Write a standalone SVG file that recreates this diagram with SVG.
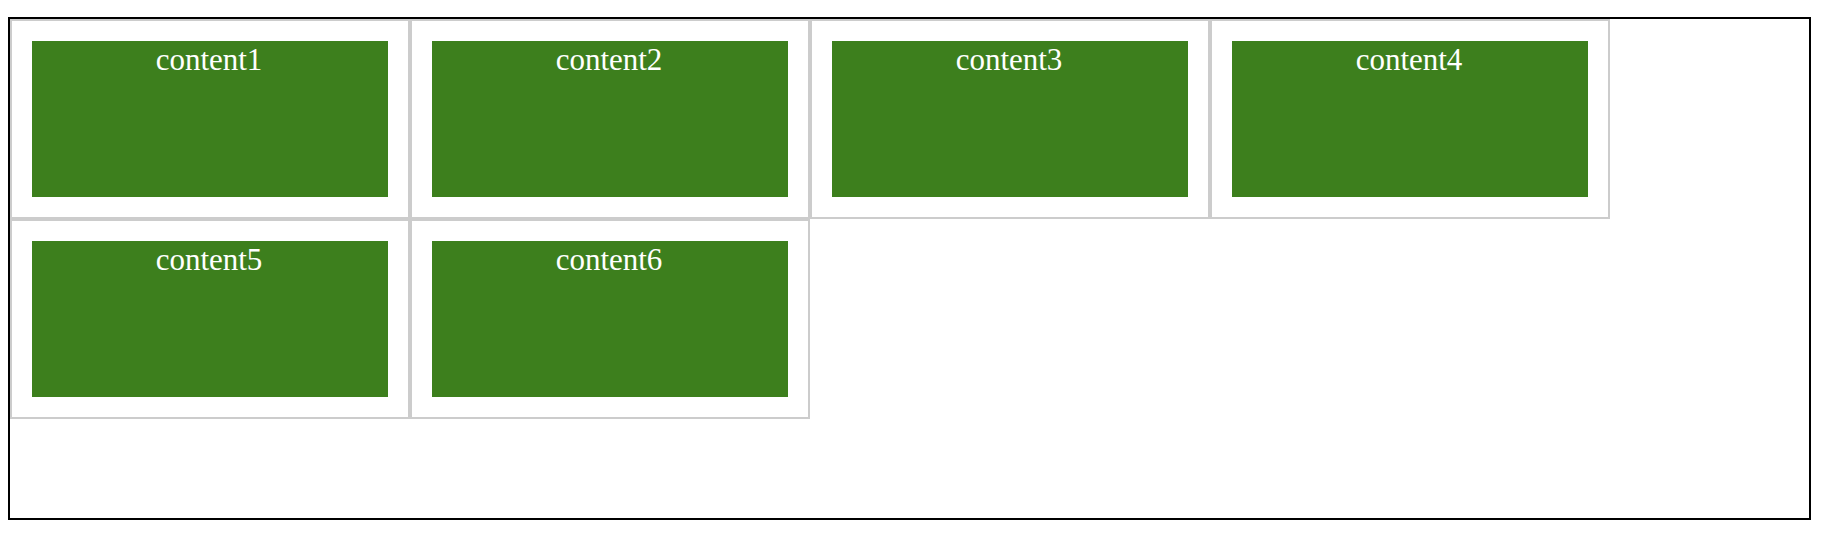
<svg xmlns="http://www.w3.org/2000/svg" width="1826" height="538" viewBox="0 0 1826 538">
<style>
.cell{fill:#fff;stroke:#cccccc;stroke-width:2}
.box{fill:#3d7f1d}
.lbl{font-family:"Liberation Serif","Times New Roman",serif;font-size:31px;fill:#fff;text-anchor:middle}
</style>
<rect x="0" y="0" width="1826" height="538" fill="#fff"/>
<rect id="container" x="9" y="18" width="1801" height="501" fill="#fff" stroke="#000" stroke-width="2"/>
<g id="cell1"><rect class="cell" x="11" y="20" width="398" height="198"/><rect class="box" x="32" y="41" width="356" height="156"/><text class="lbl" x="209" y="70">content1</text></g>
<g id="cell2"><rect class="cell" x="411" y="20" width="398" height="198"/><rect class="box" x="432" y="41" width="356" height="156"/><text class="lbl" x="609" y="70">content2</text></g>
<g id="cell3"><rect class="cell" x="811" y="20" width="398" height="198"/><rect class="box" x="832" y="41" width="356" height="156"/><text class="lbl" x="1009" y="70">content3</text></g>
<g id="cell4"><rect class="cell" x="1211" y="20" width="398" height="198"/><rect class="box" x="1232" y="41" width="356" height="156"/><text class="lbl" x="1409" y="70">content4</text></g>
<g id="cell5"><rect class="cell" x="11" y="220" width="398" height="198"/><rect class="box" x="32" y="241" width="356" height="156"/><text class="lbl" x="209" y="270">content5</text></g>
<g id="cell6"><rect class="cell" x="411" y="220" width="398" height="198"/><rect class="box" x="432" y="241" width="356" height="156"/><text class="lbl" x="609" y="270">content6</text></g>
<g id="connectors"/>
</svg>
